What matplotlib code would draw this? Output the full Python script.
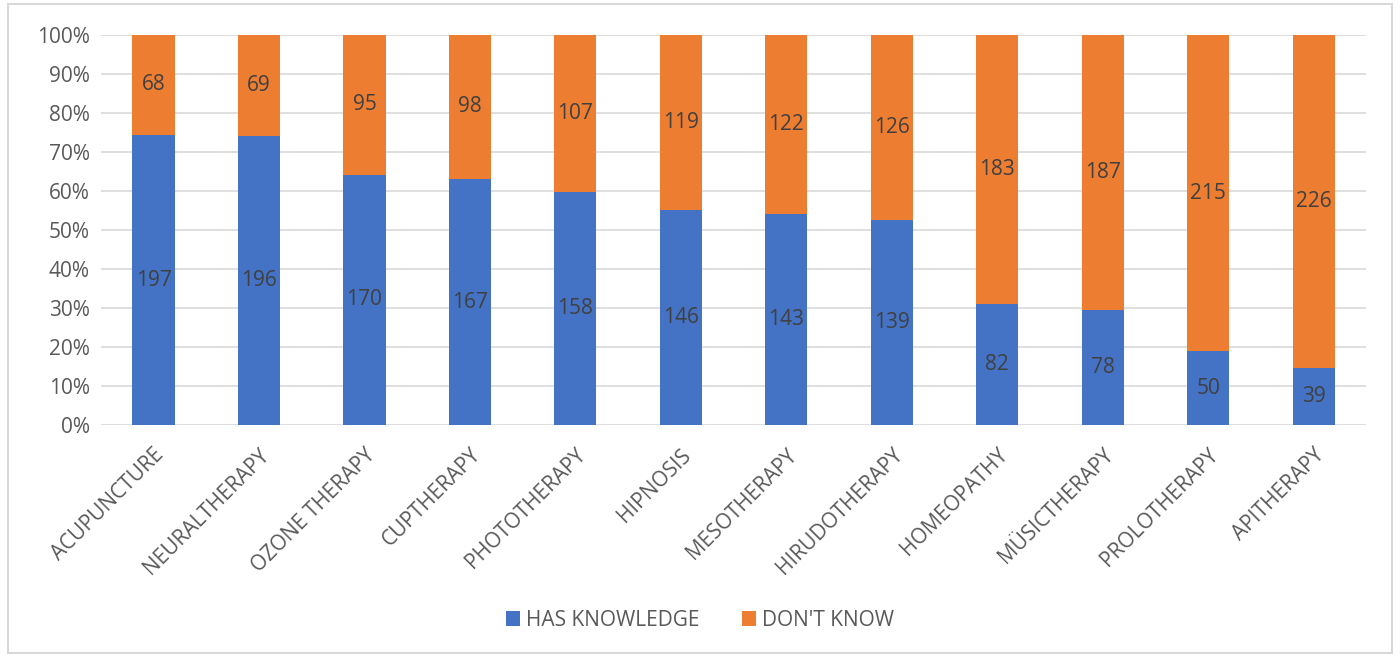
import matplotlib.pyplot as plt
import numpy as np
from matplotlib.patches import Rectangle
from matplotlib.ticker import PercentFormatter

plt.rcParams['font.family'] = ['Open Sans', 'DejaVu Sans']

categories = ["ACUPUNCTURE", "NEURALTHERAPY", "OZONE THERAPY", "CUPTHERAPY",
              "PHOTOTHERAPY", "HIPNOSIS", "MESOTHERAPY", "HIRUDOTHERAPY",
              "HOMEOPATHY", "MÜSICTHERAPY", "PROLOTHERAPY", "APITHERAPY"]
has_knowledge = [197, 196, 170, 167, 158, 146, 143, 139, 82, 78, 50, 39]
dont_know = [68, 69, 95, 98, 107, 119, 122, 126, 183, 187, 215, 226]

blue = '#4472C4'
orange = '#ED7D31'
text_color = '#595959'
grid_color = '#D9D9D9'
fs = 15

hk = np.array(has_knowledge, dtype=float)
dk = np.array(dont_know, dtype=float)
total = hk + dk
hk_pct = hk / total * 100
dk_pct = dk / total * 100

fig = plt.figure(figsize=(14, 6.57), dpi=100)
ax = fig.add_axes([0.072, 0.353, 0.904, 0.594])

x = np.arange(len(categories))
w = 0.4
b1 = ax.bar(x, hk_pct, w, color=blue, label='HAS KNOWLEDGE', zorder=3)
b2 = ax.bar(x, dk_pct, w, bottom=hk_pct, color=orange, label="DON'T KNOW", zorder=3)

# value labels centred in each segment
for i in range(len(categories)):
    ax.text(x[i], hk_pct[i] / 2, str(has_knowledge[i]), ha='center', va='center',
            fontsize=fs, color='#404040', zorder=4)
    ax.text(x[i], hk_pct[i] + dk_pct[i] / 2, str(dont_know[i]), ha='center', va='center',
            fontsize=fs, color='#404040', zorder=4)

ax.set_xlim(-0.5, len(categories) - 0.5)
ax.set_ylim(0, 100)
ax.set_yticks(np.arange(0, 101, 10))
ax.yaxis.set_major_formatter(PercentFormatter(decimals=0))
ax.grid(axis='y', color=grid_color, linewidth=1.2, zorder=0)
ax.set_axisbelow(True)
for s in ax.spines.values():
    s.set_visible(False)
ax.tick_params(length=0, labelsize=fs, colors=text_color, pad=8)

ax.set_xticks(x)
ax.set_xticklabels(categories, rotation=45, ha='right', va='top', rotation_mode='anchor')
for lbl in ax.get_xticklabels():
    lbl.set_color(text_color)
ax.tick_params(axis='x', pad=14)

leg = fig.legend(handles=[b1, b2], loc='center', bbox_to_anchor=(0.5, 0.056), ncol=2,
                 frameon=False, fontsize=fs, handlelength=0.7, handleheight=0.7,
                 handletextpad=0.3, columnspacing=2.0)
for t in leg.get_texts():
    t.set_color(text_color)

# chart border
fig.patches.append(Rectangle((0.006, 0.006), 0.988, 0.988, transform=fig.transFigure,
                             fill=False, edgecolor=grid_color, linewidth=1.5))

fig.savefig('out.png', dpi=100)
